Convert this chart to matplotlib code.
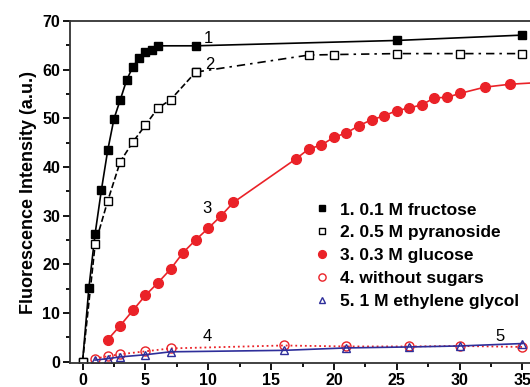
import matplotlib
matplotlib.use("Agg")
import matplotlib.pyplot as plt
from matplotlib.ticker import MultipleLocator

plt.rcParams['font.family'] = ['Liberation Sans', 'DejaVu Sans']

# Series 1: 0.1 M fructose
x1 = [0, 0.5, 1, 1.5, 2, 2.5, 3, 3.5, 4, 4.5, 5, 5.5, 6, 9, 25, 35]
y1 = [0, 15.1, 26.3, 35.3, 43.4, 49.9, 53.8, 57.8, 60.6, 62.4, 63.6, 64.1, 64.9, 64.9, 66.0, 67.1]
# Series 2: 0.5 M pyranoside
x2 = [0, 1, 2, 3, 4, 5, 6, 7, 9, 18, 20, 25, 30, 35]
y2 = [0, 24.1, 33.0, 41.1, 45.1, 48.6, 52.1, 53.8, 59.5, 63.0, 63.1, 63.3, 63.3, 63.3]
# Series 3: 0.3 M glucose
x3 = [2, 3, 4, 5, 6, 7, 8, 9, 10, 11, 12, 17, 18, 19, 20, 21, 22, 23, 24, 25, 26, 27, 28, 29, 30, 32, 34, 36]
y3 = [4.5, 7.4, 10.5, 13.6, 16.2, 19.0, 22.4, 25.0, 27.4, 29.9, 32.7, 41.7, 43.7, 44.5, 46.1, 47.0,
      48.5, 49.7, 50.5, 51.6, 52.1, 52.8, 54.2, 54.3, 55.1, 56.4, 57.0, 57.3]
# Series 4: without sugars
x4 = [1, 2, 3, 5, 7, 16, 21, 26, 30, 35]
y4 = [0.6, 1.1, 1.5, 2.1, 2.7, 3.3, 3.1, 3.1, 3.2, 3.0]
# Series 5: 1 M ethylene glycol
x5 = [1, 2, 3, 5, 7, 16, 21, 26, 30, 35]
y5 = [0.3, 0.6, 0.95, 1.4, 2.0, 2.3, 2.8, 3.0, 3.2, 3.7]

labels = ['1. 0.1 M fructose', '2. 0.5 M pyranoside', '3. 0.3 M glucose',
          '4. without sugars', '5. 1 M ethylene glycol']
curve_ids = ['1', '2', '3', '4', '5']

RED = '#ea2228'
BLUE = '#2e2e9a'

fig = plt.figure(figsize=(5.3, 3.87), dpi=100)
ax = fig.add_axes([70/530, 24/387, 465/530, 342/387])

ms = 5.8
ax.plot(x1, y1, '-', color='black', lw=1.2, marker='s', ms=ms, mfc='black', mec='black', label=labels[0])
# series 2: dashed up to x=9, dash-dot afterward
k = x2.index(9)
ax.plot(x2[:k+1], y2[:k+1], '--', color='black', lw=1.2, marker='s', ms=ms, mfc='white', mec='black',
        label=labels[1])
ax.plot(x2[k:], y2[k:], linestyle=(0, (5, 3, 1.5, 3)), color='black', lw=1.2, marker='s', ms=ms,
        mfc='white', mec='black')
ax.plot(x3, y3, '-', color=RED, lw=1.2, marker='o', ms=7, mfc=RED, mec=RED, label=labels[2])
ax.plot(x4, y4, ':', color=RED, lw=1.3, marker='o', ms=6.5, mfc='none', mec=RED, label=labels[3])
ax.plot(x5, y5, '-', color=BLUE, lw=1.2, marker='^', ms=6, mfc='none', mec=BLUE, label=labels[4])

ax.set_xlim(-1, 36)
ax.set_ylim(-0.3, 70)
ax.xaxis.set_major_locator(MultipleLocator(5))
ax.xaxis.set_minor_locator(MultipleLocator(2.5))
ax.yaxis.set_major_locator(MultipleLocator(10))
ax.yaxis.set_minor_locator(MultipleLocator(5))
ax.tick_params(which='both', direction='out', top=False, right=False, width=1.3)
ax.tick_params(which='major', length=5, labelsize=11.5, pad=2)
ax.tick_params(which='minor', length=3)
for lab in ax.get_xticklabels() + ax.get_yticklabels():
    lab.set_fontweight('bold')
for s in ax.spines.values():
    s.set_linewidth(1.3)
    s.set_color('#333333')

ax.set_ylabel('Fluorescence Intensity (a.u.)', fontsize=13, fontweight='bold', labelpad=4)

# curve labels
ax.text(10.0, 66.5, curve_ids[0], fontsize=12, ha='center', va='center')
ax.text(10.1, 61.0, curve_ids[1], fontsize=12, ha='center', va='center')
ax.text(9.9, 31.5, curve_ids[2], fontsize=12, ha='center', va='center')
ax.text(9.9, 5.2, curve_ids[3], fontsize=12, ha='center', va='center')
ax.text(33.2, 5.2, curve_ids[4], fontsize=12, ha='center', va='center')

h, l = ax.get_legend_handles_labels()
leg = ax.legend(h, l, loc='upper left', bbox_to_anchor=(0.515, 0.49), frameon=False,
                prop={'weight': 'bold', 'size': 12.5}, handlelength=0.6, handletextpad=0.75,
                labelspacing=0.44, borderaxespad=0, markerscale=0.8)
for line in leg.get_lines():
    line.set_linestyle('none')

fig.savefig('out.png', dpi=100)
